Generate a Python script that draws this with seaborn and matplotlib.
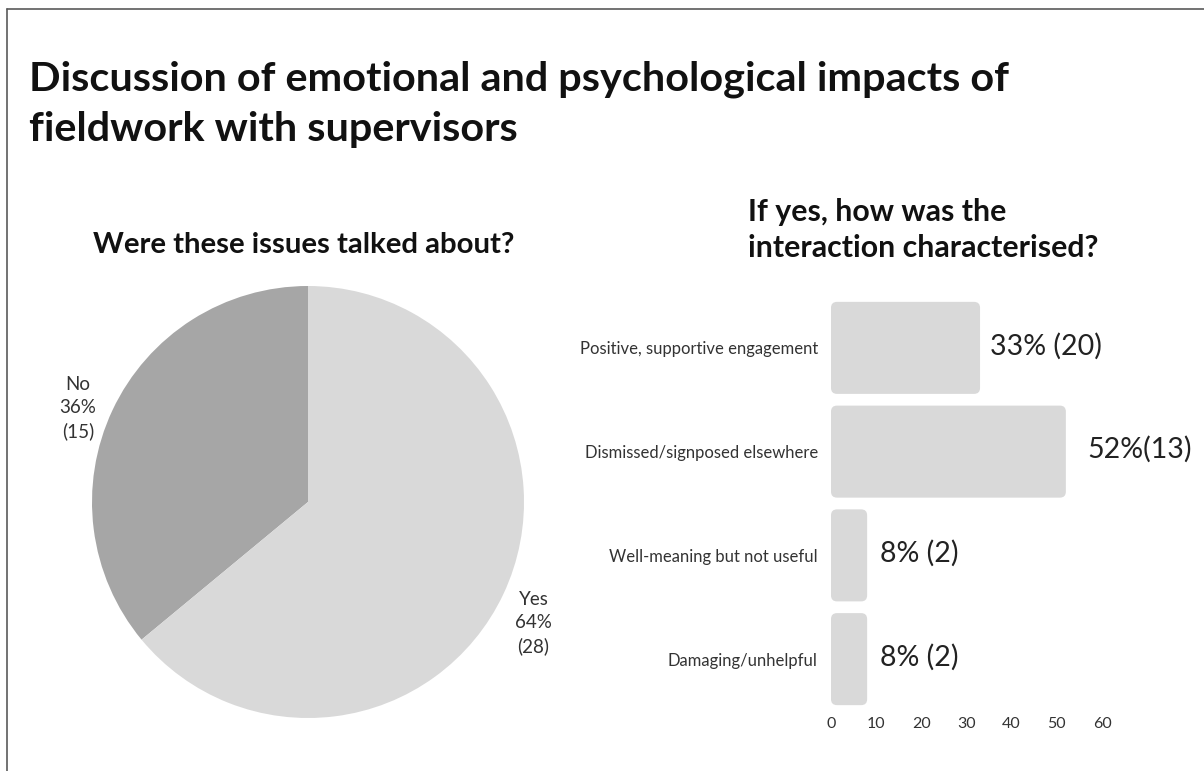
import numpy as np
import pandas as pd
import matplotlib
matplotlib.use("Agg")
import matplotlib.pyplot as plt
from matplotlib.patches import FancyBboxPatch
from matplotlib.lines import Line2D
import seaborn as sns

# --- data -------------------------------------------------------------
pie_labels = ["No", "Yes"]
pie_pct = [36, 64]
pie_counts = [15, 28]
pie_colors = ["#a6a6a6", "#d9d9d9"]

bar_categories = [
    "Positive, supportive engagement",
    "Dismissed/signposed elsewhere",
    "Well-meaning but not useful",
    "Damaging/unhelpful",
]
bar_pct = [33, 52, 8, 8]
bar_counts = [20, 13, 2, 2]
bar_value_text = ["33% (20)", "52%(13)", "8% (2)", "8% (2)"]
x_ticks = [0, 10, 20, 30, 40, 50, 60]

# gap (in pixels) between each bar end and its value label
label_gap_px = [10, 21, 13, 13]

# --- style ------------------------------------------------------------
sns.set_theme(style="white")
plt.rcParams["font.family"] = ["Lato", "DejaVu Sans"]

W, H = 1204, 771
fig = plt.figure(figsize=(W / 100, H / 100), dpi=100)
fig.patch.set_facecolor("white")


def fx(px):
    return px / W


def fy(py):
    return 1 - py / H


# frame lines along top and left edge
fig.add_artist(Line2D([fx(7), 1.0], [fy(9), fy(9)], color="#5a5a5a", lw=1.2,
                      transform=fig.transFigure))
fig.add_artist(Line2D([fx(7), fx(7)], [fy(9), 0.0], color="#5a5a5a", lw=1.2,
                      transform=fig.transFigure))

# titles
fig.text(fx(29), fy(79), "Discussion of emotional and psychological impacts of",
         fontsize=29.8, fontweight="bold", color="#111111", va="center", ha="left")
fig.text(fx(29), fy(129), "fieldwork with supervisors",
         fontsize=29.8, fontweight="bold", color="#111111", va="center", ha="left")
fig.text(fx(93), fy(245), "Were these issues talked about?",
         fontsize=21.2, fontweight="bold", color="#111111", va="center", ha="left")
fig.text(fx(748), fy(212), "If yes, how was the",
         fontsize=21.8, fontweight="bold", color="#111111", va="center", ha="left")
fig.text(fx(748), fy(248), "interaction characterised?",
         fontsize=21.8, fontweight="bold", color="#111111", va="center", ha="left")

# --- pie --------------------------------------------------------------
cx, cy, r = 308, 502, 216
ax_pie = fig.add_axes([fx(cx - r), fy(cy + r), 2 * r / W, 2 * r / H])
wedges, _ = ax_pie.pie(pie_pct, colors=pie_colors, startangle=90,
                       counterclock=True, radius=1,
                       wedgeprops=dict(linewidth=0))
ax_pie.set_xlim(-1, 1)
ax_pie.set_ylim(-1, 1)
ax_pie.set_aspect("auto")
ax_pie.axis("off")

for w, lab, p, c in zip(wedges, pie_labels, pie_pct, pie_counts):
    mid = np.deg2rad((w.theta1 + w.theta2) / 2)
    d = 1.165
    ax_pie.text(d * np.cos(mid) - 0.01, d * np.sin(mid) - 0.063,
                f"{lab}\n{p}%\n({c})",
                ha="center", va="center", fontsize=13.5, color="#333333",
                linespacing=1.42, clip_on=False)

# --- bars -------------------------------------------------------------
x0, x60 = 831, 1102
top, bottom = 296, 711
ax_bar = fig.add_axes([fx(x0), fy(bottom), (x60 - x0) / W, (bottom - top) / H])
df = pd.DataFrame({"category": bar_categories, "pct": bar_pct})
sns.barplot(data=df, x="pct", y="category", orient="h", color="#d9d9d9",
            width=0.887, ax=ax_bar, saturation=1)
ax_bar.set_xlim(0, 60)
ax_bar.set_ylim(3.5, -0.5)

# rounded bar corners
px_per_x = (x60 - x0) / 60
px_per_y = (bottom - top) / 4
rad_px = 6
for patch in list(ax_bar.patches):
    bx, by = patch.get_x(), patch.get_y()
    bw, bh = patch.get_width(), patch.get_height()
    patch.remove()
    rb = FancyBboxPatch((bx, by), bw, bh,
                        boxstyle=f"round,pad=0,rounding_size={rad_px / px_per_x}",
                        mutation_aspect=px_per_x / px_per_y,
                        facecolor="#d9d9d9", edgecolor="none")
    ax_bar.add_patch(rb)

for i, (v, t, g) in enumerate(zip(bar_pct, bar_value_text, label_gap_px)):
    ax_bar.text(v + g / px_per_x, i - 0.02, t, ha="left", va="center",
                fontsize=20.5, color="#222222", clip_on=False)

ax_bar.set_xticks(x_ticks)
ax_bar.set_xticklabels([str(t) for t in x_ticks])
ax_bar.tick_params(axis="x", length=0, pad=4, labelsize=11.5, labelcolor="#333333")
ax_bar.tick_params(axis="y", length=0, pad=9.5, labelsize=12, labelcolor="#333333")
ax_bar.set_xlabel("")
ax_bar.set_ylabel("")
for s in ax_bar.spines.values():
    s.set_visible(False)
ax_bar.grid(False)

fig.savefig("out.png", dpi=100, facecolor="white")
